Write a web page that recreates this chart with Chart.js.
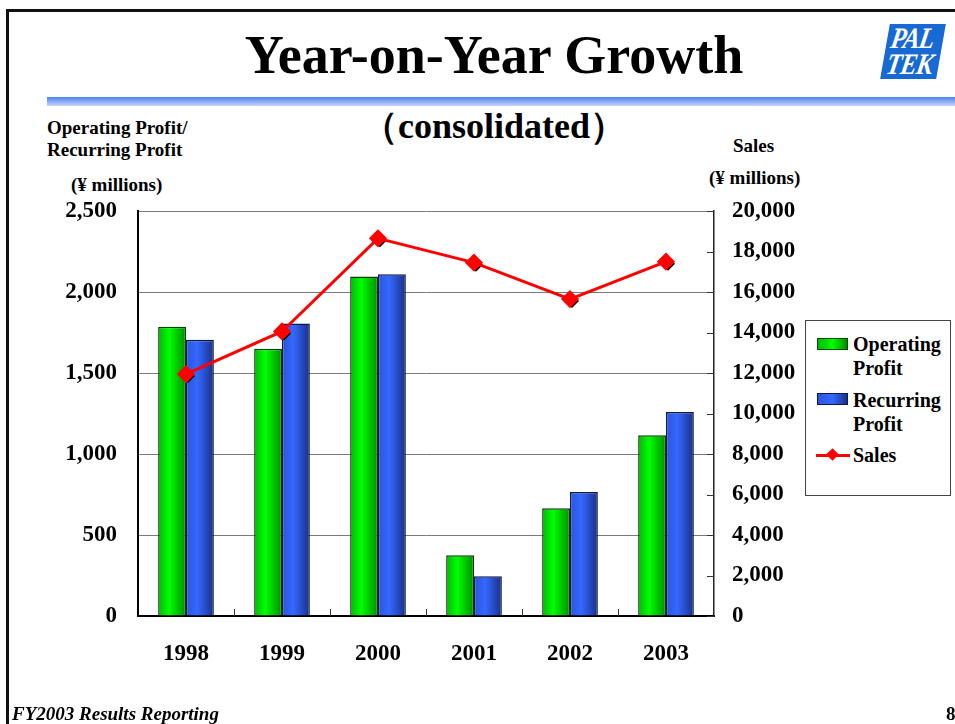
<!DOCTYPE html>
<html>
<head>
<meta charset="utf-8">
<script src="https://cdn.jsdelivr.net/npm/chart.js@4/dist/chart.umd.min.js"></script>
<style>
  body { margin: 0; width: 955px; height: 724px; overflow: hidden; background: #fff;
         font-family: "Liberation Serif", "Times New Roman", serif; }
  .abs { position: absolute; white-space: nowrap; font-weight: bold; color: #000; }
  #frame { position: absolute; left: 6px; top: 9px; width: 960px; height: 730px;
           border-left: 3px solid #111; border-top: 3px solid #111; }
  #band { position: absolute; left: 47px; top: 97px; width: 908px; height: 9px;
          background: linear-gradient(#4d7ff0, #c8d6fb); }
  #chart { position: absolute; left: 0; top: 0; }
  #legend { position: absolute; left: 805px; top: 320px; width: 144px; height: 174px;
            border: 1px solid #444; background: #fff; font-weight: bold; font-size: 20px; }
  .item { position: absolute; left: 47px; line-height: 24px; }
  .swatch { position: absolute; left: 11px; width: 29px; height: 10px; }
  #logo { position: absolute; left: 885px; top: 24px; width: 56px; height: 55px;
          background: #1769d4; transform: skewX(-10deg); }
  #logo span { position: absolute; color: #fff; font-style: italic; font-size: 27px;
               font-weight: bold; letter-spacing: -1px; line-height: 26px; left: 4px;
               transform: scale(0.92, 1.1); transform-origin: left top; }
</style>
</head>
<body>
<div id="frame"></div>
<div class="abs" style="left:0;width:988px;text-align:center;top:24px;font-size:54px;">Year-on-Year Growth</div>
<div id="logo"><span style="top:0px;">PAL</span><span style="top:26px;">TEK</span></div>
<div id="band"></div>
<div class="abs" style="left:0;width:988px;text-align:center;top:102px;font-size:36px;">（consolidated）</div>

<div class="abs" style="left:47px;top:117px;font-size:19px;line-height:22px;">Operating Profit/<br>Recurring Profit</div>
<div class="abs" style="left:71px;top:174px;font-size:19px;">(¥ millions)</div>
<div class="abs" style="left:733px;top:135px;font-size:19px;">Sales</div>
<div class="abs" style="left:709px;top:167px;font-size:19px;">(¥ millions)</div>

<canvas id="chart" width="955" height="724"></canvas>
<div id="legend"></div>

<div class="abs" style="left:12px;top:703px;font-size:19px;font-style:italic;">FY2003 Results Reporting</div>
<div class="abs" style="left:946px;top:703px;font-size:19px;">8</div>

<script>
// Chart data
const years = ['1998', '1999', '2000', '2001', '2002', '2003'];
const operatingProfit = [1785, 1650, 2095, 375, 665, 1115];
const recurringProfit = [1705, 1805, 2110, 245, 765, 1260];
const sales = [11950, 14050, 18650, 17450, 15650, 17500];
const profitTicks = [0, 2500, 500];   // min, max, step
const salesTicks = [0, 20000, 2000];

const catPct = 0.58;

// horizontal shading so the bars look like the rounded 3D bars of the original
function barShade(stops, side) {
    return function(ctx) {
        const chart = ctx.chart;
        const area = chart.chartArea;
        if (!area || !chart.scales.x) return stops[1];
        const center = chart.scales.x.getPixelForValue(ctx.dataIndex);
        const w = (area.right - area.left) / years.length * catPct / 2;
        const x0 = side === 0 ? center - w : center;
        const g = chart.ctx.createLinearGradient(x0, 0, x0 + w, 0);
        g.addColorStop(0, stops[0]);
        g.addColorStop(0.4, stops[1]);
        g.addColorStop(1, stops[2]);
        return g;
    };
}

// small tick marks drawn inside the plot, like the original
const innerTicks = {
    id: 'innerTicks',
    afterDatasetsDraw(chart) {
        const c = chart.ctx, a = chart.chartArea;
        c.save();
        c.strokeStyle = '#333';
        c.lineWidth = 1;
        const step = (a.right - a.left) / years.length;
        for (let i = 1; i < years.length; i++) {
            const x = Math.round(a.left + i * step) + 0.5;
            c.beginPath(); c.moveTo(x, a.bottom); c.lineTo(x, a.bottom - 7); c.stroke();
        }
        chart.scales.y1.ticks.forEach(t => {
            const y = Math.round(chart.scales.y1.getPixelForValue(t.value)) + 0.5;
            c.beginPath(); c.moveTo(a.right, y); c.lineTo(a.right - 7, y); c.stroke();
        });
        c.restore();
    }
};

// black drop shadow under the diamond markers
const markerShadow = {
    id: 'markerShadow',
    beforeDatasetDraw(chart, args) {
        if (args.index !== 2) return;
        const c = chart.ctx;
        c.save();
        c.fillStyle = '#000';
        args.meta.data.forEach(p => {
            const r = 7, x = p.x + 2, y = p.y + 2;
            c.beginPath();
            c.moveTo(x, y - r); c.lineTo(x + r, y); c.lineTo(x, y + r); c.lineTo(x - r, y);
            c.closePath(); c.fill();
        });
        c.restore();
    }
};

const tickFont = { family: '"Liberation Serif", "Times New Roman", serif', size: 23, weight: 'bold' };

const chart = new Chart(document.getElementById('chart'), {
    type: 'bar',
    data: {
        labels: years,
        datasets: [
            {
                label: 'Operating Profit',
                data: operatingProfit,
                yAxisID: 'y',
                order: 1,
                backgroundColor: barShade(['#00b800', '#00ff00', '#008c00'], 0),
                borderColor: '#004400',
                borderWidth: 1.5,
                categoryPercentage: catPct,
                barPercentage: 1
            },
            {
                label: 'Recurring Profit',
                data: recurringProfit,
                yAxisID: 'y',
                order: 1,
                backgroundColor: barShade(['#2a55dd', '#3468ff', '#1a3088'], 1),
                borderColor: '#0c1850',
                borderWidth: 1.5,
                categoryPercentage: catPct,
                barPercentage: 1
            },
            {
                type: 'line',
                label: 'Sales',
                data: sales,
                yAxisID: 'y1',
                order: 0,
                borderColor: '#ff0000',
                borderWidth: 3,
                pointStyle: 'rectRot',
                pointRadius: 7,
                pointBackgroundColor: '#ff0000',
                pointBorderColor: '#ff0000',
                tension: 0
            }
        ]
    },
    options: {
        responsive: false,
        animation: false,
        layout: { padding: { top: 211, left: 0, right: 0, bottom: 0 } },
        plugins: { legend: { display: false }, tooltip: { enabled: false } },
        scales: {
            x: {
                grid: { display: false },
                border: { color: '#000', width: 2 },
                ticks: { font: tickFont, color: '#000', padding: 16 },
                afterFit: s => { s.height = 108; }
            },
            y: {
                position: 'left',
                min: profitTicks[0], max: profitTicks[1],
                grid: { color: '#7a7a7a', drawTicks: false },
                border: { color: '#000', width: 2 },
                ticks: { stepSize: profitTicks[2], font: tickFont, color: '#000', padding: 21,
                         callback: v => v.toLocaleString('en-US') },
                afterFit: s => { s.width = 138; }
            },
            y1: {
                position: 'right',
                min: salesTicks[0], max: salesTicks[1],
                grid: { display: false, drawTicks: false },
                border: { color: '#222', width: 1.5 },
                ticks: { stepSize: salesTicks[2], font: tickFont, color: '#000', padding: 18,
                         callback: v => v.toLocaleString('en-US') },
                afterFit: s => { s.width = 241; }
            }
        }
    },
    plugins: [innerTicks, markerShadow]
});

// legend built from the datasets (labels wrap like the original)
const legend = document.getElementById('legend');
const rows = [
    { ds: 0, top: 11, lines: ['Operating', 'Profit'], swatchTop: 17, sw: ['#00b800', '#00ff00', '#008c00'], edge: '#004400' },
    { ds: 1, top: 67, lines: ['Recurring', 'Profit'], swatchTop: 72, sw: ['#2a55dd', '#3468ff', '#1a3088'], edge: '#0c1850' },
    { ds: 2, top: 122, lines: ['Sales'] }
];
rows.forEach(r => {
    const ds = chart.data.datasets[r.ds];
    const t = document.createElement('div');
    t.className = 'item';
    t.style.top = r.top + 'px';
    t.innerHTML = r.lines.join('<br>');
    legend.appendChild(t);
    if (r.sw) {
        const s = document.createElement('div');
        s.className = 'swatch';
        s.style.top = r.swatchTop + 'px';
        s.style.background = 'linear-gradient(to right,' + r.sw.join(',') + ')';
        s.style.border = '1px solid ' + r.edge;
        legend.appendChild(s);
    } else {
        const l = document.createElement('div');
        l.style.cssText = 'position:absolute;left:10px;top:133px;width:34px;height:3px;background:' + ds.borderColor;
        legend.appendChild(l);
        const d = document.createElement('div');
        d.style.cssText = 'position:absolute;left:22px;top:129px;width:9px;height:9px;transform:rotate(45deg);background:' + ds.pointBackgroundColor;
        legend.appendChild(d);
    }
});
</script>
</body>
</html>
